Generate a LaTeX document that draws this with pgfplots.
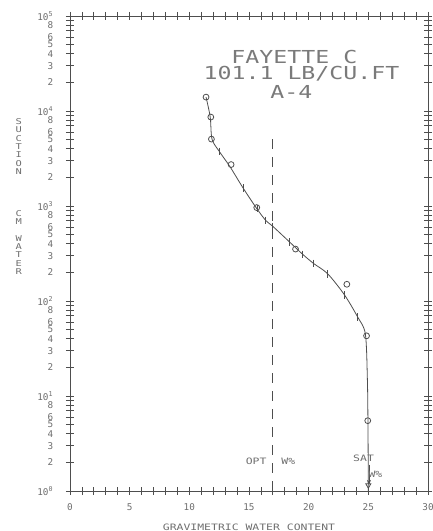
\documentclass[border=0pt]{standalone}
\usepackage{fontspec}
\usepackage{pgfplots}
\pgfplotsset{compat=1.18}
\usetikzlibrary{arrows.meta}
\setmainfont{DejaVu Sans Mono}
\newfontfamily\widefont[FakeStretch=1.3]{DejaVu Sans Mono}
\definecolor{ink}{HTML}{4E4E4E}
\definecolor{txt}{HTML}{6E6E6E}
\definecolor{ttl}{HTML}{7A7A7A}
\newcommand{\D}[1]{10\textsuperscript{#1}\hspace{4pt}}

\begin{document}
\begin{tikzpicture}
\begin{axis}[
  scale only axis, width=268.5pt, height=356.25pt,
  xmin=0, xmax=30, ymin=1, ymax=100000, ymode=log,
  clip=false,
  axis line style={ink, line width=0.6pt},
  tick style={ink, line width=0.6pt},
  major tick length=6pt, tick align=center,
  minor tick length=0pt,
  xtick={0,1,...,30},
  xticklabels={0,,,,,5,,,,,10,,,,,15,,,,,20,,,,,25,,,,,30},
  ytick={1,2,3,4,5,6,7,8,9,10,20,30,40,50,60,70,80,90,100,200,300,400,500,600,700,800,900,1000,2000,3000,4000,5000,6000,7000,8000,9000,10000,20000,30000,40000,50000,60000,70000,80000,90000,100000},
  yticklabels={\D0,2,3,4,5,6,,8,,\D1,2,3,4,5,6,,8,,\D2,2,3,4,5,6,,8,,\D3,2,3,4,5,6,,8,,\D4,2,3,4,5,6,,8,,\D5},
  ticklabel style={txt, font=\fontsize{7}{8}\selectfont},
  yticklabel style={xshift=-6pt},
  xticklabel style={yshift=-3pt},
  xlabel={GRAVIMETRIC WATER CONTENT},
  xlabel style={txt, font=\widefont\fontsize{6.6}{7}\selectfont, yshift=-3pt},
]
% fitted curve
\addplot[ink, line width=0.6pt, smooth, tension=0.5] coordinates {
 (11.4,14000) (11.75,8630) (11.9,5060) (12.5,3770) (13.4,2600) (14.5,1550)
 (15.6,960) (16.4,705) (17.0,610) (18.4,418) (19.5,310) (20.4,249)
 (21.6,193) (23.0,116) (24.1,68) (24.75,45) (24.92,15) (24.97,5) (25.0,1)
};
% ticks along the curve
\addplot[only marks, mark=|, mark size=2.8pt, mark options={ink, line width=0.6pt}] coordinates {
 (12.5,3770) (14.5,1550) (15.7,940) (16.4,705) (17.0,610) (18.4,418) (19.5,310)
 (20.4,249) (21.6,193) (23.0,116) (24.1,68)
};
% measured points
\addplot[only marks, mark=o, mark size=2.2pt, mark options={ink, line width=0.6pt}] coordinates {
 (11.4,14000) (11.8,8630) (11.85,5060) (13.5,2730) (15.65,962) (18.9,352)
 (23.2,150) (24.85,43) (24.95,5.5)
};
% saturation point
\addplot[only marks, mark=triangle, mark size=2.2pt, mark options={ink, line width=0.6pt, rotate=180}] coordinates {(25.0,1.15)};
% optimum water content
\addplot[ink, line width=0.6pt, dash pattern=on 7.5pt off 6pt] coordinates {(17,1) (17,5800)};

\draw[ink, line width=0.6pt, -{Stealth[length=4pt]}] (axis cs:25.05,1.9) -- (axis cs:25.05,1.15);

\node[ttl, font=\widefont\fontsize{13.4}{14}\selectfont] at (axis cs:18.8,37000) {FAYETTE C};
\node[ttl, font=\widefont\fontsize{13.4}{14}\selectfont] at (axis cs:19.4,24500) {101.1 LB/CU.FT};
\node[ttl, font=\widefont\fontsize{13.4}{14}\selectfont] at (axis cs:18.55,16000) {A-4};

\node[txt, font=\widefont\fontsize{6.6}{7}\selectfont] at (axis cs:15.6,2.05) {OPT};
\node[txt, font=\widefont\fontsize{6.6}{7}\selectfont] at (axis cs:18.3,2.05) {W\%};
\node[txt, font=\widefont\fontsize{6.6}{7}\selectfont] at (axis cs:24.6,2.2) {SAT};
\node[txt, font=\widefont\fontsize{6.6}{7}\selectfont] at (axis cs:25.6,1.5) {W\%};

\node[txt, anchor=north, align=center, font=\widefont\fontsize{6}{6.25}\selectfont]
  at (axis cs:-4.3,9300) {S\\U\\C\\T\\I\\O\\N\\~\\~\\~\\~\\C\\M\\~\\W\\A\\T\\E\\R};
\end{axis}
\pgfresetboundingbox
\path ([shift={(-52.5pt,-30pt)}]current axis.south west) rectangle ([shift={(3pt,12pt)}]current axis.north east);
\end{tikzpicture}
\end{document}
